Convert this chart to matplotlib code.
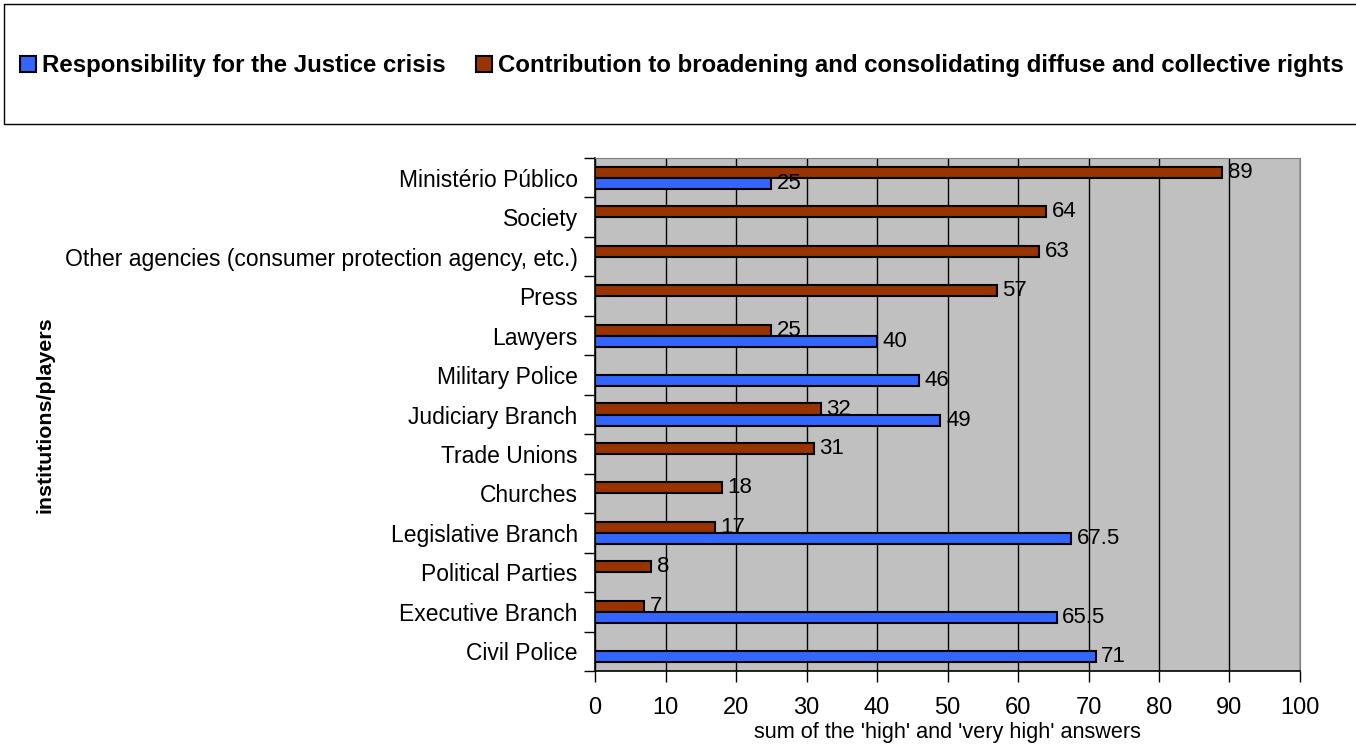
import numpy as np
import matplotlib.pyplot as plt
from matplotlib.patches import Rectangle, Patch

plt.rcParams['font.family'] = ['Liberation Sans', 'DejaVu Sans']

categories = ['Ministério Público', 'Society',
              'Other agencies (consumer protection agency, etc.)', 'Press',
              'Lawyers', 'Military Police', 'Judiciary Branch', 'Trade Unions',
              'Churches', 'Legislative Branch', 'Political Parties',
              'Executive Branch', 'Civil Police']
# nan = no bar for that series
responsibility = [25, np.nan, np.nan, np.nan, 40, 46, 49, np.nan, np.nan,
                  67.5, np.nan, 65.5, 71]
contribution = [89, 64, 63, 57, 25, np.nan, 32, 31, 18, 17, 8, 7, np.nan]

blue = '#3366FF'
brown = '#993300'

fig = plt.figure(figsize=(13.56, 7.49), dpi=100)
ax = fig.add_axes([0.4388, 0.1041, 0.5199, 0.6849])
ax.set_facecolor('#C0C0C0')

y = np.arange(len(categories))
h = 0.28

def draw(vals, offset, color):
    vals = np.array(vals, dtype=float)
    keep = ~np.isnan(vals)
    bars = ax.barh(y[keep] + offset, vals[keep], height=h, color=color,
                   edgecolor='black', linewidth=1.5, zorder=3)
    ax.bar_label(bars, fmt='{:g}', padding=4, fontsize=16, zorder=4)
    return bars

draw(contribution, -0.14, brown)
draw(responsibility, 0.14, blue)

ax.set_xlim(0, 100)
ax.set_ylim(len(categories) - 0.5, -0.5)
ax.set_xticks(np.arange(0, 101, 10))
ax.tick_params(axis='x', labelsize=17, length=8, width=1, pad=11)
ax.grid(axis='x', color='black', linewidth=1, zorder=1)

# category labels centred, ticks on category boundaries
ax.set_yticks(y)
ax.set_yticklabels(categories, fontsize=16.5)
ax.tick_params(axis='y', which='major', length=0, pad=12.5)
ax.set_yticks(np.arange(len(categories) + 1) - 0.5, minor=True)
ax.tick_params(axis='y', which='minor', length=8, width=1)

for s in ['top', 'right']:
    ax.spines[s].set_color('#808080')
for s in ['left', 'bottom']:
    ax.spines[s].set_linewidth(1.2)

ax.set_xlabel("sum of the 'high' and 'very high' answers", fontsize=15.6, labelpad=2)
fig.text(0.033, 0.446, 'institutions/players', rotation=90, fontsize=15.4,
         fontweight='bold', ha='center', va='center')

# legend box across the top
fig.patches.append(Rectangle((0.003, 0.8344), 1.0, 0.1603, transform=fig.transFigure,
                             facecolor='white', edgecolor='black', linewidth=1))
handles = [Patch(facecolor=blue, edgecolor='black', linewidth=1.5),
           Patch(facecolor=brown, edgecolor='black', linewidth=1.5)]
fig.legend(handles, ['Responsibility for the Justice crisis',
                     'Contribution to broadening and consolidating diffuse and collective rights'],
           loc='center', bbox_to_anchor=(0.503, 0.912), ncol=2, frameon=False,
           prop={'weight': 'bold', 'size': 17.3}, handlelength=0.67, handleheight=0.67,
           handletextpad=0.25, columnspacing=1.25, borderpad=0)

fig.savefig('out.png', dpi=100)
